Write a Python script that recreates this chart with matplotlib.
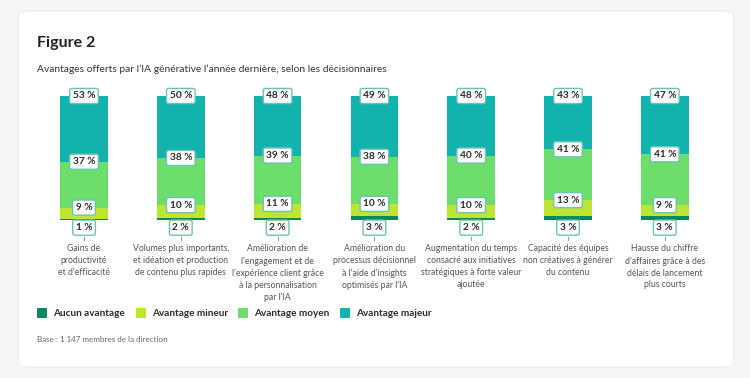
import numpy as np
import matplotlib.pyplot as plt
from matplotlib.patches import FancyBboxPatch

plt.rcParams['font.family'] = ['Lato', 'DejaVu Sans']

categories = [
    "Gains de\nproductivité\net d’efficacité",
    "Volumes plus importants,\net idéation et production\nde contenu plus rapides",
    "Amélioration de\nl’engagement et de\nl’expérience client grâce\nà la personnalisation\npar l’IA",
    "Amélioration du\nprocessus décisionnel\nà l’aide d’insights\noptimisés par l’IA",
    "Augmentation du temps\nconsacré aux initiatives\nstratégiques à forte valeur\najoutée",
    "Capacité des équipes\nnon créatives à générer\ndu contenu",
    "Hausse du chiffre\nd’affaires grâce à des\ndélais de lancement\nplus courts",
]
aucun = [1, 2, 2, 3, 2, 3, 3]
mineur = [9, 10, 11, 10, 10, 13, 9]
moyen = [37, 38, 39, 38, 40, 41, 41]
majeur = [53, 50, 48, 49, 48, 43, 47]

series = [
    ("Aucun avantage", aucun, "#0a8a5c"),
    ("Avantage mineur", mineur, "#bde532"),
    ("Avantage moyen", moyen, "#6ddd6b"),
    ("Avantage majeur", majeur, "#13b3ad"),
]
box_edge = "#6cc4b8"

fig = plt.figure(figsize=(7.5, 3.78), dpi=100)
fig.patch.set_facecolor("#f7f7f7")

# card
card = FancyBboxPatch((18 / 750, 11 / 378), 716 / 750, 356 / 378,
                      boxstyle="round,pad=0,rounding_size=0.012",
                      transform=fig.transFigure, facecolor="white",
                      edgecolor="#ececec", lw=0.8, zorder=-5)
fig.patches.append(card)

fig.text(37 / 750, 1 - 43 / 378, "Figure 2", fontsize=11.5, fontweight="bold",
         color="#222222", va="center")
fig.text(37 / 750, 1 - 69 / 378,
         "Avantages offerts par l’IA générative l’année dernière, selon les décisionnaires",
         fontsize=7.4, color="#333333", va="center")

ax = fig.add_axes([35.6 / 750, 1 - 220 / 378, 677.6 / 750, 124 / 378], zorder=2)
ax.set_xlim(-0.5, len(categories) - 0.5)
ax.set_ylim(0, 100)
ax.axis("off")

x = np.arange(len(categories))
width = 0.49
bottom = np.zeros(len(categories))
for name, vals, col in series:
    ax.bar(x, vals, width, bottom=bottom, color=col, label=name, zorder=1)
    bottom += np.array(vals)

bbox = dict(boxstyle="round,pad=0.3,rounding_size=0.2", fc="white",
            ec=box_edge, lw=1.0)
for i in x:
    # label at top of each segment
    top = 100
    for name, vals, col in series[::-1][:3]:
        ax.text(i, top, f"{vals[i]} %", ha="center", va="center",
                fontsize=7.3, fontweight="bold", color="#2b2b2b", bbox=bbox, zorder=3)
        top -= vals[i]
    ax.annotate(f"{aucun[i]} %", (i, 0), xytext=(0, -5.5), textcoords="offset points",
                ha="center", va="center", fontsize=7.3, fontweight="bold",
                color="#2b2b2b", bbox=bbox, zorder=3, annotation_clip=False)
    ax.plot([i, i], [-14.0, -16.0], color="#999999", lw=0.8, clip_on=False)
    ax.annotate(categories[i], (i, 0), xytext=(0, -17.5), textcoords="offset points",
                ha="center", va="top", fontsize=6.2, color="#555555",
                linespacing=1.4, annotation_clip=False)

# legend
lx = [37, 136, 238, 340]
for (name, vals, col), px in zip(series, lx):
    fig.patches.append(FancyBboxPatch((px / 750, 1 - 318 / 378), 10 / 750, 10 / 378,
                                      boxstyle="round,pad=0,rounding_size=0.002",
                                      transform=fig.transFigure, facecolor=col,
                                      edgecolor="none"))
    fig.text((px + 16) / 750, 1 - 313 / 378, name, fontsize=7.2, fontweight="bold",
             color="#2b2b2b", va="center")

fig.text(37 / 750, 1 - 340 / 378, "Base : 1 147 membres de la direction",
         fontsize=5.8, color="#666666", va="center")

fig.savefig("out.png", dpi=100, facecolor=fig.get_facecolor())
